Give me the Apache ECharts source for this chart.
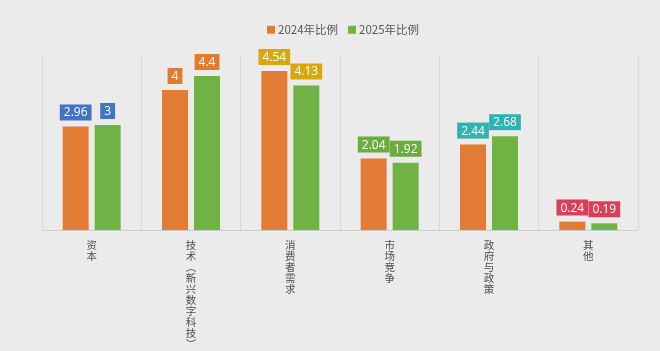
<!DOCTYPE html>
<html>
<head>
<meta charset="utf-8">
<script src="https://cdn.jsdelivr.net/npm/echarts@6/dist/echarts.min.js"></script>
<style>
  html, body { margin: 0; padding: 0; background: #ebebeb; }
  #main { width: 660px; height: 351px; }
</style>
</head>
<body>
<div id="main"></div>
<script>
// categories (vertical labels use presentation-form brackets)
const categories = ['资本', '技术︵新兴数字科技︶', '消费者需求', '市场竞争', '政府与政策', '其他']
const ratio2024 = [2.96, 4, 4.54, 2.04, 2.44, 0.24]
const ratio2025 = [3, 4.4, 4.13, 1.92, 2.68, 0.19]
// label box colour per category
const labelColors = ['#4472c4', '#e07b30', '#d9a80c', '#6aac3f', '#2fb2b2', '#d8405a']

const chart = echarts.init(document.getElementById('main'))

// 每个柱子的数据标签按类别上色
function withLabels(values) {
  return values.map((v, i) => ({
    value: v,
    label: { backgroundColor: labelColors[i] },
  }))
}

const labelStyle = {
  show: true,
  position: 'top',
  distance: 6,
  color: '#fff',
  fontSize: 12,
  fontFamily: 'Open Sans, Noto Sans, sans-serif',
  padding: [2, 4, 1, 4],
  lineHeight: 13,
}

const option = {
  backgroundColor: '#ebebeb',
  textStyle: { fontFamily: 'Noto Sans CJK SC, sans-serif' },
  legend: {
    left: 262,
    top: 19,
    itemWidth: 8,
    itemHeight: 8,
    itemGap: 10,
    icon: 'rect',
    textStyle: { color: '#595959', fontSize: 11.5, padding: [0, 0, 0, -2], fontFamily: 'Noto Sans CJK SC' },
    data: ['2024年比例', '2025年比例'],
  },
  grid: {
    left: 42,
    right: 22,
    top: 55,
    bottom: 121,
    outerBoundsMode: 'none',
  },
  xAxis: {
    type: 'category',
    data: categories,
    axisLine: { lineStyle: { color: '#cfcfcf' } },
    axisTick: { show: false },
    splitLine: { show: true, lineStyle: { color: '#d8d8d8' } },
    axisLabel: {
      color: '#505050',
      fontSize: 10.5,
      lineHeight: 11,
      margin: 10,
      fontFamily: 'Noto Sans CJK SC',
      verticalAlign: 'top',
      formatter: (v) => v.split('').join('\n'),
    },
  },
  yAxis: {
    type: 'value',
    min: 0,
    max: 5,
    show: false,
    splitLine: { show: false },
  },
  series: [
    {
      name: '2024年比例',
      type: 'bar',
      barWidth: 26,
      barGap: '23%',
      itemStyle: { color: '#e27b33' },
      label: labelStyle,
      data: withLabels(ratio2024),
    },
    {
      name: '2025年比例',
      type: 'bar',
      barWidth: 26,
      itemStyle: { color: '#70b244' },
      label: labelStyle,
      data: withLabels(ratio2025),
    },
  ],
}

chart.setOption(option)
</script>
</body>
</html>
